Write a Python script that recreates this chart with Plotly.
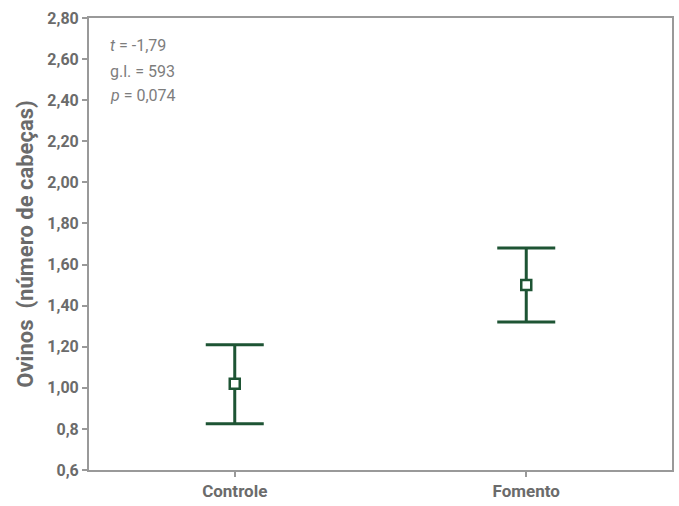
import plotly.graph_objects as go

# Mean number of sheep per group with 95% confidence interval
groups = ["Controle", "Fomento"]
means = [1.02, 1.50]
ci_low = [0.825, 1.32]
ci_high = [1.21, 1.68]

# Y-axis tick positions and their Portuguese-formatted labels
y_ticks = [0.6, 0.8, 1.0, 1.2, 1.4, 1.6, 1.8, 2.0, 2.2, 2.4, 2.6, 2.8]
y_tick_text = ["0,6", "0,8", "1,00", "1,20", "1,40", "1,60", "1,80",
               "2,00", "2,20", "2,40", "2,60", "2,80"]

# t-test summary lines
stats_lines = ["<i>t</i> = -1,79", "g.l. = 593", "<i>p</i> = 0,074"]

green = "#1e5434"
gray_text = "#6b6b6b"
axis_gray = "#999999"

err_plus = [h - m for h, m in zip(ci_high, means)]
err_minus = [m - l for m, l in zip(means, ci_low)]

fig = go.Figure()
fig.add_trace(go.Scatter(
    x=groups,
    y=means,
    mode="markers",
    marker=dict(symbol="square", size=10, color="white",
                line=dict(color=green, width=2.5)),
    error_y=dict(type="data", symmetric=False, array=err_plus,
                 arrayminus=err_minus, color=green, thickness=3, width=29),
    showlegend=False,
    hoverinfo="skip",
))

for i, line in enumerate(stats_lines):
    fig.add_annotation(
        x=0.032, y=1 - (28 + 25 * i) / 452,
        xref="paper", yref="paper", xanchor="left", yanchor="middle",
        text=line, showarrow=False,
        font=dict(family="Roboto", size=16, color="#7d7d7d"),
    )

fig.update_layout(
    width=679, height=506,
    margin=dict(l=89, r=5, t=18, b=36),
    paper_bgcolor="white", plot_bgcolor="white",
    font=dict(family="Roboto", color=gray_text),
)

fig.update_xaxes(
    type="category", range=[-0.5, 1.5],
    showline=True, linecolor=axis_gray, linewidth=2, mirror=True,
    ticks="outside", ticklen=5, tickcolor=axis_gray, tickwidth=1.5,
    showgrid=False, zeroline=False,
    tickfont=dict(family="Roboto", size=17, color=gray_text, weight="bold"),
)
fig.update_yaxes(
    range=[0.6, 2.8],
    tickvals=y_ticks, ticktext=y_tick_text,
    showline=True, linecolor=axis_gray, linewidth=2, mirror=True,
    ticks="outside", ticklen=5, tickcolor=axis_gray, tickwidth=1.5,
    showgrid=False, zeroline=False,
    tickfont=dict(family="Roboto", size=16, color=gray_text, weight="bold"),
    title=dict(text="Ovinos\u00a0 (número de cabeças)", standoff=8,
               font=dict(family="Roboto", size=22, color=gray_text, weight="bold")),
)

fig.write_html("out.html")
